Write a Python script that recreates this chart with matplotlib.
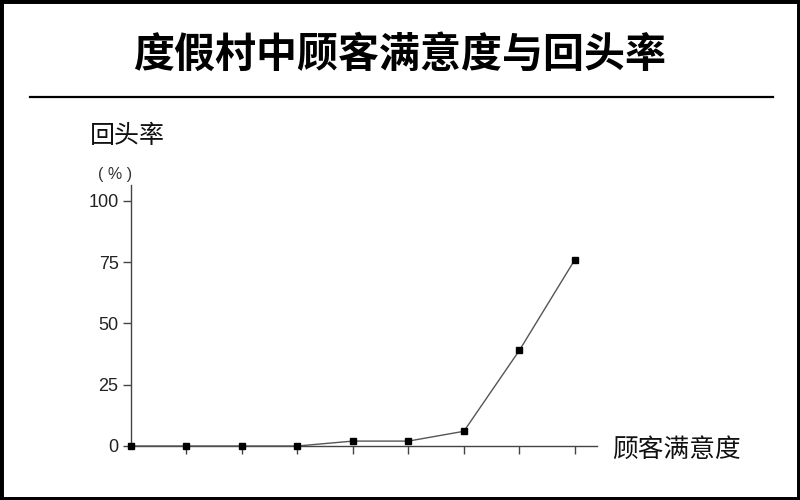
import matplotlib.pyplot as plt
from matplotlib.patches import Rectangle

plt.rcParams['font.family'] = ['Noto Sans CJK SC', 'DejaVu Sans']

# 数据：顾客满意度等级（0-8）与回头率（%）
levels = [0, 1, 2, 3, 4, 5, 6, 7, 8]
return_rate = [0, 0, 0, 0, 2, 2, 6, 39, 76]
y_ticks = [0, 25, 50, 75, 100]

fig = plt.figure(figsize=(8, 5), dpi=100)
ax = fig.add_axes([131 / 800, 54 / 500, 466 / 800, 261 / 500])

ax.plot(levels, return_rate, color='#555555', lw=1.0,
        marker='s', ms=5, mfc='black', mec='black', clip_on=False, zorder=5)

ax.set_xlim(0, 8.4)
ax.set_ylim(0, 106.5)
ax.set_yticks(y_ticks)
ax.set_yticklabels([str(v) for v in y_ticks], family='Liberation Sans',
                   fontsize=13, color='#222222')
ax.set_xticks(levels[1:])
ax.set_xticklabels([])
ax.tick_params(axis='y', direction='out', length=6, width=1, color='#444444', pad=3)
ax.tick_params(axis='x', direction='out', length=6, width=1, color='#444444')

for side in ['top', 'right']:
    ax.spines[side].set_visible(False)
for side in ['left', 'bottom']:
    ax.spines[side].set_color('#444444')
    ax.spines[side].set_linewidth(1.0)
ax.set_facecolor('none')

# 标题与分隔线
fig.text(0.5, 1 - 55 / 500, '度假村中顾客满意度与回头率', ha='center', va='center',
         fontsize=29.5, fontweight='heavy', color='black')
fig.add_artist(plt.Line2D([30 / 800, 773 / 800], [1 - 97 / 500, 1 - 97 / 500],
                          transform=fig.transFigure, color='black', lw=1.6))

fig.text(90 / 800, 1 - 136 / 500, '回头率', ha='left', va='center',
         fontsize=18, color='#111111')
fig.text(98 / 800, 1 - 175 / 500, '( % )', ha='left', va='center',
         family='Liberation Sans', fontsize=11.5, color='#333333')
fig.text(612 / 800, 1 - 450 / 500, '顾客满意度', ha='left', va='center',
         fontsize=18.5, color='#111111')

# 外框
fig.patches.append(Rectangle((0, 0), 1, 1, transform=fig.transFigure,
                             fill=False, edgecolor='black', lw=5))

fig.savefig('out.png', dpi=100)
